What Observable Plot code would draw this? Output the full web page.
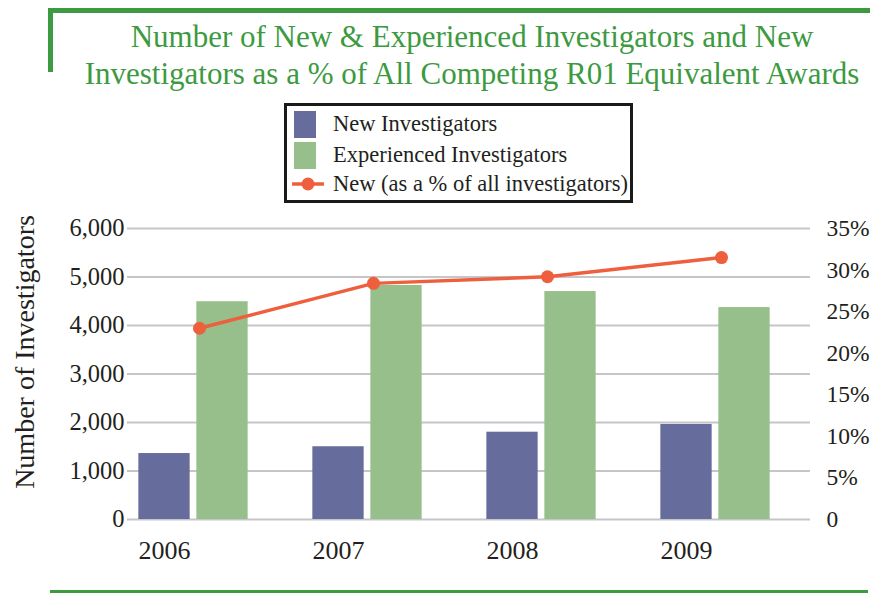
<!DOCTYPE html>
<html><head><meta charset="utf-8">
<script src="https://cdn.jsdelivr.net/npm/d3@7"></script>
<script src="https://cdn.jsdelivr.net/npm/@observablehq/plot@0.6"></script>
<style>
body{margin:0;background:#fff;}
#wrap{position:relative;width:878px;height:594px;overflow:hidden;font-family:"Liberation Serif",serif;}
.gl{position:absolute;background:#3c9a40;}
#title{position:absolute;left:0;width:944px;top:18px;text-align:center;color:#3c9a40;font-size:31px;line-height:37px;}
#legend{position:absolute;left:284px;top:103px;width:343px;height:94px;border:3px solid #1a1a1a;font-size:22.5px;color:#231f20;}
.row{position:absolute;left:0;height:30px;display:flex;align-items:center;}
.sw{width:22px;height:27px;margin-left:7px;margin-right:17px;}
#chart{position:absolute;left:0;top:0;}
</style></head><body>
<div id="wrap">
  <div id="chart"></div>
  <div class="gl" style="left:48px;top:8px;width:822px;height:5px"></div>
  <div class="gl" style="left:48px;top:8px;width:5px;height:64px"></div>
  <div id="title">Number of New &amp; Experienced Investigators and New<br>Investigators as a % of All Competing R01 Equivalent Awards</div>
  <div id="legend"></div>
  <div class="gl" style="left:50px;top:590px;width:818px;height:3px"></div>
</div>
<script>
const years = ["2006", "2007", "2008", "2009"];
const newInvestigators = [1360, 1500, 1800, 1960];
const experiencedInvestigators = [4490, 4825, 4700, 4370];
const newPercent = [23.0, 28.4, 29.2, 31.5];
const leftTicks = [0, 1000, 2000, 3000, 4000, 5000, 6000];
const rightTicks = [0, 5, 10, 15, 20, 25, 30, 35];
const seriesNames = ["New Investigators", "Experienced Investigators", "New (as a % of all investigators)"];
const colors = ["#666c9c", "#97bf8b", "#ee5f3d"];

const yMax = 6000, pctMax = 35, k = yMax / pctMax;
const newData = years.map((y, i) => ({year: y, value: newInvestigators[i]}));
const expData = years.map((y, i) => ({year: y, value: experiencedInvestigators[i]}));
const pctData = years.map((y, i) => ({year: y, pct: newPercent[i], v: newPercent[i] * k}));

const chart = Plot.plot({
  width: 878, height: 594,
  marginTop: 228, marginBottom: 75, marginLeft: 127, marginRight: 68,
  style: {fontFamily: "Liberation Serif, serif", fontSize: "23px", color: "#231f20", background: "transparent"},
  x: {domain: years, range: [104.7, 803.3], padding: 0},
  y: {domain: [0, yMax]},
  marks: [
    Plot.ruleY(leftTicks, {stroke: "#c6c6ca", strokeWidth: 2}),
    Plot.barY(newData, {x: "year", y: "value", fill: colors[0], insetLeft: 32.35, insetRight: 90.35}),
    Plot.barY(expData, {x: "year", y: "value", fill: colors[1], insetLeft: 90.35, insetRight: 32.35}),
    Plot.line(pctData, {x: "year", y: "v", stroke: colors[2], strokeWidth: 3.5, dx: 6}),
    Plot.dot(pctData, {x: "year", y: "v", fill: colors[2], r: 6.5, dx: 6}),
    Plot.axisY({ticks: leftTicks, tickFormat: d3.format(","), tickSize: 0, tickPadding: 3, label: null, fontSize: 24.5}),
    Plot.axisY({anchor: "right", ticks: rightTicks.map(p => p * k), tickFormat: v => { const p = Math.round(v / k); return p === 0 ? "0" : p + "%"; }, tickSize: 0, tickPadding: 16, label: null, fontSize: 23.5}),
    Plot.axisX({tickSize: 0, tickPadding: 21, dx: -29, label: null, fontSize: 26}),
    Plot.text(["Number of Investigators"], {frameAnchor: "left", textAnchor: "middle", rotate: -90, dx: -102, dy: -22, fontSize: 28, fill: "#231f20"})
  ]
});
document.getElementById("chart").appendChild(chart);

const legend = document.getElementById("legend");
const tops = [3, 34, 63];
seriesNames.forEach((name, i) => {
  const row = document.createElement("div");
  row.className = "row";
  row.style.top = tops[i] + "px";
  let sw;
  if (i < 2) {
    sw = `<div class="sw" style="background:${colors[i]}"></div>`;
  } else {
    sw = `<svg width="46" height="30" style="margin-right:0px"><line x1="5" x2="37" y1="15" y2="15" stroke="${colors[2]}" stroke-width="3.5"/><circle cx="21" cy="15" r="6.5" fill="${colors[2]}"/></svg>`;
  }
  row.innerHTML = sw + `<span>${name}</span>`;
  legend.appendChild(row);
});
</script>
</body></html>
